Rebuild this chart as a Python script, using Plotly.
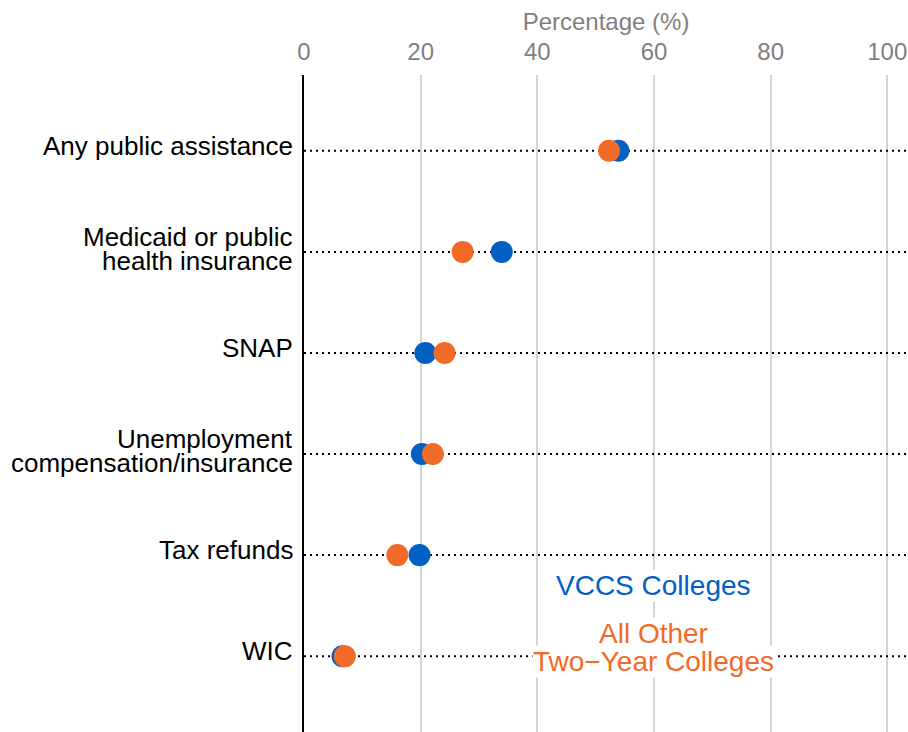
import plotly.graph_objects as go

categories = ["Any public assistance",
              "Medicaid or public<br>health insurance",
              "SNAP",
              "Unemployment<br>compensation/insurance",
              "Tax refunds",
              "WIC"]
vccs = [53.9, 33.9, 20.8, 20.2, 19.8, 6.6]
other = [52.3, 27.2, 24.1, 22.1, 16.0, 7.0]
x_ticks = [0, 20, 40, 60, 80, 100]
x_title = "Percentage (%)"
series_names = ["VCCS Colleges", "All Other<br>Two−Year Colleges"]

BLUE = "#0060C4"
ORANGE = "#F26A28"
FONT = "Liberation Sans"
XMAX = 103.55
n = len(categories)
idx = list(range(n))

fig = go.Figure()
for i in idx:
    fig.add_trace(go.Scatter(x=[0, XMAX], y=[i, i], mode="lines",
                             line=dict(color="black", width=2, dash="2px,4px"),
                             hoverinfo="skip", showlegend=False))
fig.add_trace(go.Scatter(x=vccs, y=idx, mode="markers", name="VCCS Colleges",
                         marker=dict(color=BLUE, size=22), showlegend=False))
fig.add_trace(go.Scatter(x=other, y=idx, mode="markers", name="All Other Two-Year Colleges",
                         marker=dict(color=ORANGE, size=22), showlegend=False))

annotations = []
LABEL_PITCH = 24
for i, lab in enumerate(categories):
    lines = lab.split("<br>")
    m = len(lines)
    for j, ln in enumerate(lines):
        annotations.append(dict(
            x=0, xref="paper", y=i, yref="y", text=ln, showarrow=False,
            xanchor="right", yanchor="middle", xshift=-9,
            yshift=((m - 1) / 2 - j) * LABEL_PITCH + 5 - 2 * (m - 1),
            font=dict(family=FONT, size=26, color="black")))

# in-plot legend labels
def legend_lines(text, y, color, pitch):
    lines = text.split("<br>")
    m = len(lines)
    for j, ln in enumerate(lines):
        annotations.append(dict(
            x=60, xref="x", y=y, yref="y", text=ln, showarrow=False,
            xanchor="center", yanchor="middle",
            yshift=((m - 1) / 2 - j) * pitch,
            bgcolor="white", borderpad=0,
            font=dict(family=FONT, size=28, color=color)))

legend_lines(series_names[0], 4.30, BLUE, 28)
legend_lines(series_names[1], 4.91, ORANGE, 28)

fig.update_layout(
    width=908, height=732,
    margin=dict(l=304, r=0, t=75, b=0, autoexpand=False),
    paper_bgcolor="white", plot_bgcolor="white",
    font=dict(family=FONT),
    annotations=annotations,
    xaxis=dict(side="top", range=[0, XMAX], tickvals=x_ticks, automargin=False,
               tickfont=dict(family=FONT, size=24, color="#808080"),
               ticklabelstandoff=9,
               showgrid=True, gridcolor="#d4d4d4", gridwidth=2,
               zeroline=False, showline=False, ticks="",
               title=dict(text=x_title, font=dict(family=FONT, size=24, color="#808080"),
                          standoff=0)),
    yaxis=dict(range=[n - 0.25, -0.75], showticklabels=False, showgrid=False,
               zeroline=False, showline=True, linecolor="black", linewidth=2,
               ticks="", automargin=False),
)

fig.write_html("out.html",
               config={"displayModeBar": False},
               post_script="document.body.style.margin='0px';document.body.style.overflow='hidden';")
